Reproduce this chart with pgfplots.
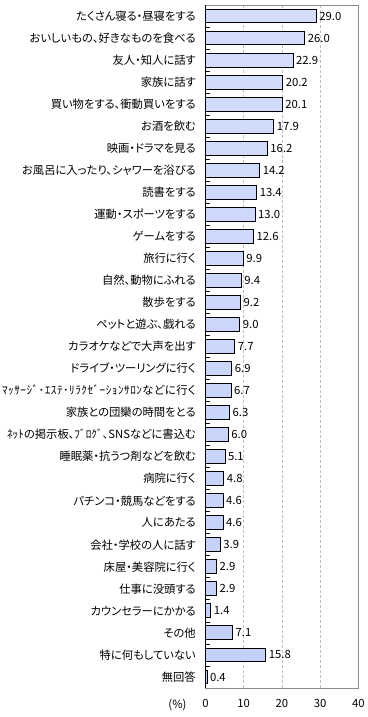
\documentclass[border=0pt]{standalone}
\usepackage{fontspec}
\setmainfont{Noto Sans CJK JP}[RawFeature=+palt]
\newfontfamily\widecjk{Noto Sans CJK JP}[RawFeature=+palt, LetterSpace=4]
\usepackage{pgfplots}
\pgfplotsset{compat=1.18}
\definecolor{barT}{RGB}{212,221,252}
\definecolor{barM}{RGB}{164,181,240}
\definecolor{barB}{RGB}{194,207,248}
\definecolor{frame}{RGB}{140,140,140}
\definecolor{gridc}{RGB}{190,190,190}
\begin{document}
\begin{tikzpicture}
\useasboundingbox (-205.5bp,-29bp) rectangle (162.5bp,688bp);
\begin{axis}[
  scale only axis,
  width=153bp, height=683bp,
  xbar, bar width=0.63,
  xmin=0, xmax=40,
  ymin=-0.5, ymax=30.5,
  y dir=reverse,
  xtick={0,10,20,30,40},
  ytick={0,...,30},
  minor ytick={0.5,1.5,...,29.5},
  ytick pos=left,
  tick align=inside,
  major tick length=0pt,
  minor tick length=5bp,
  every minor tick/.style={black, line width=0.8bp},
  xtick style={draw=none},
  xmajorgrids,
  grid style={gridc, dash pattern=on 3bp off 2bp, line width=0.7bp},
  axis line style={frame, line width=0.8bp},
  /pgf/number format/assume math mode=true,
  tick label style={font=\fontsize{11.3bp}{12bp}\selectfont},
  xticklabel style={anchor=north, inner sep=0pt, yshift=-11bp},
  yticklabel style={anchor=east, inner sep=0pt, xshift=-9.5bp},
  yticklabels={
    {たくさん寝る・昼寝をする},
    {おいしいもの、好きなものを食べる},
    {友人・知人に話す},
    {家族に話す},
    {買い物をする、衝動買いをする},
    {お酒を飲む},
    {映画・ドラマを見る},
    {お風呂に入ったり、シャワーを浴びる},
    {読書をする},
    {運動・スポーツをする},
    {ゲームをする},
    {旅行に行く},
    {自然、動物にふれる},
    {散歩をする},
    {ペットと遊ぶ、戯れる},
    {カラオケなどで大声を出す},
    {ドライブ・ツーリングに行く},
    {\widecjk ﾏｯｻｰｼﾞ･ｴｽﾃ･ﾘﾗｸｾﾞｰｼｮﾝｻﾛﾝなどに行く},
    {家族との団欒の時間をとる},
    {ﾈｯﾄの掲示板、ﾌﾞﾛｸﾞ、SNSなどに書込む},
    {睡眠薬・抗うつ剤などを飲む},
    {病院に行く},
    {パチンコ・競馬などをする},
    {人にあたる},
    {会社・学校の人に話す},
    {床屋・美容院に行く},
    {仕事に没頭する},
    {カウンセラーにかかる},
    {その他},
    {特に何もしていない},
    {無回答}
  },
  clip=false,
]
\addplot[draw=black, line width=1bp,
  top color=barT, middle color=barM, bottom color=barB,
  nodes near coords,
  point meta=explicit symbolic,
  every node near coord/.append style={font=\fontsize{11.3bp}{12bp}\selectfont, black, anchor=west, inner sep=2.5bp}
] table[meta=l] {
x y l
29.0 0 29.0
26.0 1 26.0
22.9 2 22.9
20.2 3 20.2
20.1 4 20.1
17.9 5 17.9
16.2 6 16.2
14.2 7 14.2
13.4 8 13.4
13.0 9 13.0
12.6 10 12.6
9.9 11 9.9
9.4 12 9.4
9.2 13 9.2
9.0 14 9.0
7.7 15 7.7
6.9 16 6.9
6.7 17 6.7
6.3 18 6.3
6.0 19 6.0
5.1 20 5.1
4.8 21 4.8
4.6 22 4.6
4.6 23 4.6
3.9 24 3.9
2.9 25 2.9
2.9 26 2.9
1.4 27 1.4
7.1 28 7.1
15.8 29 15.8
0.4 30 0.4
};
\draw[black, line width=1.5bp] (rel axis cs:0,0) -- (rel axis cs:0,1);
\node[font=\fontsize{11.3bp}{12bp}\selectfont, anchor=north, inner sep=0pt] at (rel axis cs:0,0) [xshift=-28bp, yshift=-11bp] {(\%)};
\end{axis}
\end{tikzpicture}
\end{document}
